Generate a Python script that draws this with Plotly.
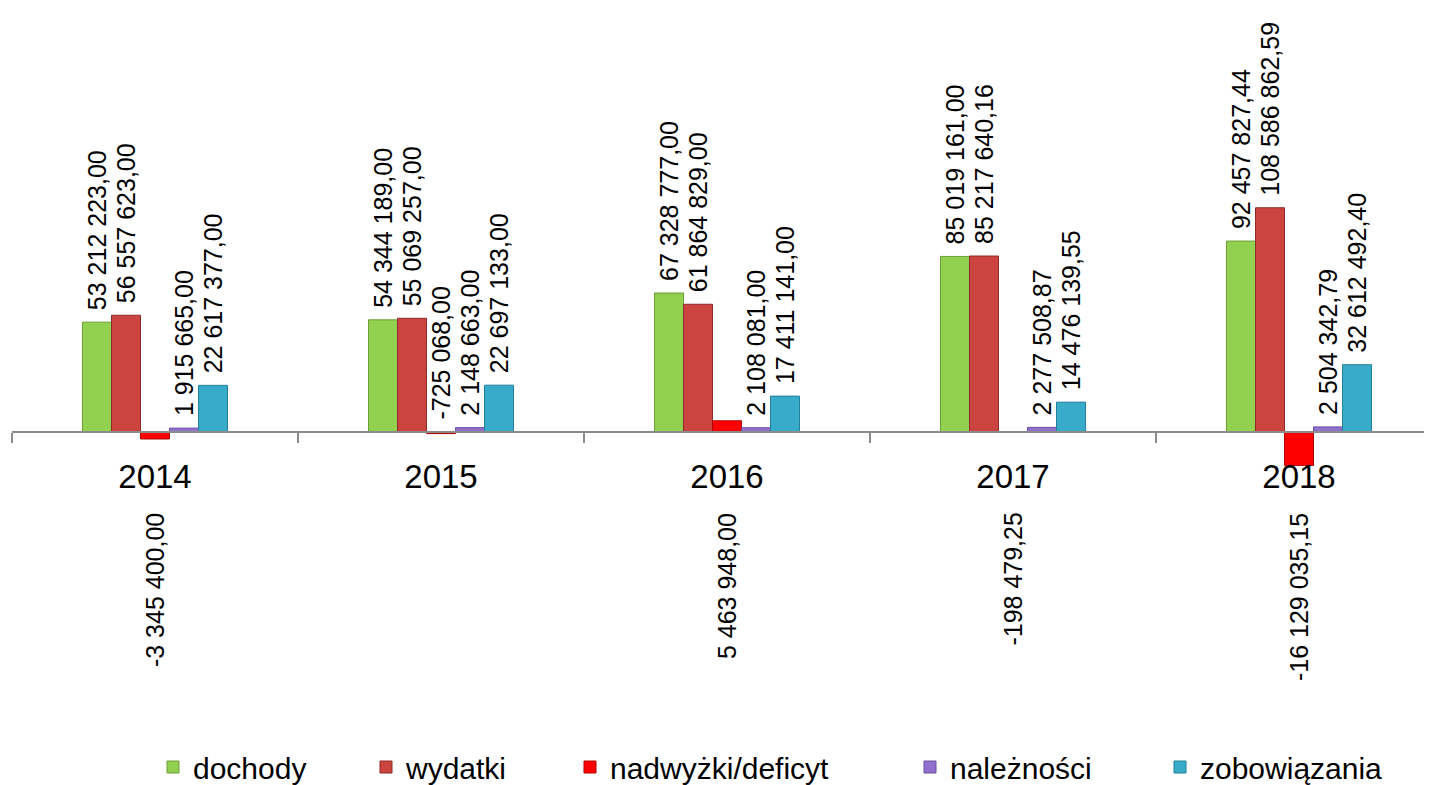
import plotly.graph_objects as go

years = ["2014", "2015", "2016", "2017", "2018"]
dochody = [53212223.00, 54344189.00, 67328777.00, 85019161.00, 92457827.44]
wydatki = [56557623.00, 55069257.00, 61864829.00, 85217640.16, 108586862.59]
nadwyzki = [-3345400.00, -725068.00, 5463948.00, -198479.25, -16129035.15]
naleznosci = [1915665.00, 2148663.00, 2108081.00, 2277508.87, 2504342.79]
zobowiazania = [22617377.00, 22697133.00, 17411141.00, 14476139.55, 32612492.40]

series_names = ["dochody", "wydatki", "nadwyżki/deficyt", "należności", "zobowiązania"]
series_values = [dochody, wydatki, nadwyzki, naleznosci, zobowiazania]
colors = ["#92D050", "#CC4440", "#FF0000", "#9070CC", "#38ABCB"]
outlines = ["#6E9E3A", "#8E2A27", "#B00000", "#6A50A0", "#23809A"]
# nadwyżki/deficyt labels placed below the axis except for 2015
label_below = [[False] * 5, [False] * 5, [True, False, True, True, True], [False] * 5, [False] * 5]
# pixel x where each legend entry's text begins
legend_text_px = [193, 406, 610, 950, 1200]

W, H = 1432, 785
OFFX = 8          # observed horizontal page offset
ML = 12 - OFFX
PW = W - ML
axis_px = 429.0
px_per_unit = 2.09e-6
ymax = axis_px / px_per_unit
ymin = -(H - axis_px) / px_per_unit
bargap = 0.493
FONT = "Liberation Sans"


def fmt(v):
    s = f"{abs(v):,.2f}".replace(",", " ").replace(".", ",")
    return ("-" if v < 0 else "") + s


fig = go.Figure()
legend_ids = ["legend"] + [f"legend{i}" for i in range(2, len(series_names) + 1)]
for name, vals, c, oc, lid in zip(series_names, series_values, colors, outlines, legend_ids):
    fig.add_trace(go.Bar(
        x=years, y=vals, name=name, legend=lid,
        marker=dict(color=c, line=dict(color=oc, width=1)),
        hoverinfo="x+y+name",
    ))

n = len(series_names)
bw = (1 - bargap) / n
annotations = []
for si, vals in enumerate(series_values):
    for ci, v in enumerate(vals):
        xpos = ci + (si - (n - 1) / 2) * bw
        if label_below[si][ci]:
            annotations.append(dict(
                x=xpos, y=0, xref="x", yref="y", text=fmt(v), textangle=-90,
                showarrow=False, yanchor="top", xanchor="center", yshift=-79,
                font=dict(family=FONT, size=25, color="#000000"),
            ))
        else:
            annotations.append(dict(
                x=xpos, y=max(v, 0), xref="x", yref="y", text=fmt(v), textangle=-90,
                showarrow=False, yanchor="bottom", xanchor="center", yshift=10,
                font=dict(family=FONT, size=25, color="#000000"),
            ))

layout_legends = {}
for lid, tpx in zip(legend_ids, legend_text_px):
    layout_legends[lid] = dict(
        orientation="h", x=(tpx - 40 - OFFX - ML) / PW, xanchor="left",
        y=(H - 768) / H, yanchor="middle",
        font=dict(family=FONT, size=30, color="#000000"),
        bgcolor="rgba(0,0,0,0)", itemwidth=30,
    )

fig.update_layout(
    width=W, height=H,
    margin=dict(l=ML, r=0, t=0, b=0),
    paper_bgcolor="white", plot_bgcolor="white",
    barmode="group", bargap=bargap, bargroupgap=0,
    font=dict(family=FONT, color="#000000"),
    annotations=annotations,
    showlegend=True,
    xaxis=dict(
        type="category", range=[-0.5, -0.5 + PW / 286.0],
        anchor="free", position=(0 - ymin) / (ymax - ymin),
        showline=True, linecolor="#8C8C8C", linewidth=1.5,
        ticks="outside", tickson="boundaries", ticklen=10, tickcolor="#8C8C8C", tickwidth=1.5,
        tickfont=dict(family=FONT, size=33, color="#000000"),
        ticklabelstandoff=16,
        showgrid=False, zeroline=False, fixedrange=True,
    ),
    yaxis=dict(range=[ymin, ymax], visible=False, showgrid=False, zeroline=False, fixedrange=True),
    **layout_legends,
)

fig.write_html("out.html")
